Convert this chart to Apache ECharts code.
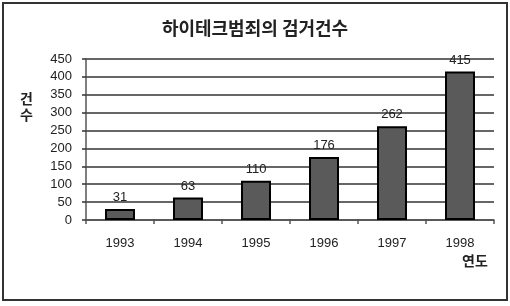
<!DOCTYPE html>
<html><head><meta charset="utf-8">
<script src="https://cdn.jsdelivr.net/npm/echarts@6/dist/echarts.min.js"></script>
<style>html,body{margin:0;padding:0;background:#fff}#c{width:510px;height:306px}</style>
</head><body><div id="c"></div>
<script>
const years = ['1993','1994','1995','1996','1997','1998'];
const arrests = [31, 63, 110, 176, 262, 415];
const yTicks = {min: 0, max: 450, interval: 50};
const titleText = '하이테크범죄의 검거건수';
const yName = '건\n수';
const xName = '연도';

const chart = echarts.init(document.getElementById('c'), null, {renderer: 'canvas'});
const font = 'Arial, "Liberation Sans", sans-serif';
chart.setOption({
  animation: false,
  backgroundColor: '#fff',
  title: {text: titleText, left: 'center', top: 14,
    textStyle: {fontFamily: '"Noto Sans CJK KR", sans-serif', fontSize: 18, fontWeight: 'bold', color: '#222'}},
  grid: {left: 86, right: 16, top: 59, bottom: 86},
  xAxis: {type: 'category', data: years,
    axisLine: {lineStyle: {color: '#555', width: 1.5}},
    axisTick: {show: true, length: 4, lineStyle: {color: '#555', width: 1.5}},
    axisLabel: {color: '#222', fontSize: 13, fontFamily: font, margin: 17}},
  yAxis: {type: 'value', min: yTicks.min, max: yTicks.max, interval: yTicks.interval,
    axisLine: {show: true, lineStyle: {color: '#555', width: 1.5}},
    axisTick: {show: true, length: 4, lineStyle: {color: '#333', width: 1.5}},
    splitLine: {lineStyle: {color: '#333', width: 1.5}},
    axisLabel: {color: '#222', fontSize: 13, fontFamily: font, margin: 14}},
  series: [{type: 'bar', data: arrests, barWidth: 30,
    itemStyle: {color: '#5a5a5a', borderColor: '#000', borderWidth: 2},
    label: {show: true, position: 'top', distance: 5, color: '#222', fontSize: 13, fontFamily: font}}],
  graphic: [
    {type: 'rect', shape: {x: 3, y: 3, width: 504, height: 297}, style: {fill: 'none', stroke: '#333', lineWidth: 2}, silent: true},
    {type: 'text', left: 20, top: 91, style: {text: yName, font: 'bold 14px "Noto Sans CJK KR", sans-serif', fill: '#222', lineHeight: 16, textAlign: 'center'}},
    {type: 'text', left: 462, top: 254, style: {text: xName, font: 'bold 14px "Noto Sans CJK KR", sans-serif', fill: '#222'}}
  ]
});
</script></body></html>
